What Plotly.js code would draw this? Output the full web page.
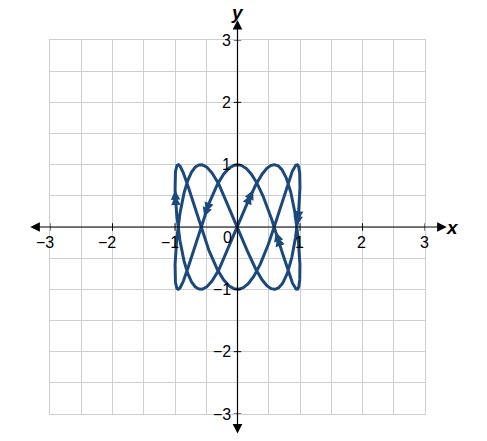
<!DOCTYPE html>
<html><head><meta charset="utf-8">
<script src="https://cdn.plot.ly/plotly-3.0.1.min.js"></script>
<style>html,body{margin:0;padding:0;background:#fff}#chart{width:487px;height:441px}</style>
</head><body><div id="chart"></div>
<script>
// Parametric curve: x(t) = sin(2t), y(t) = cos(5t), 0 <= t <= 2π
const xFrequency = 2;
const yFrequency = 5;
const tStart = 0;
const tEnd = 2 * Math.PI;
const sampleCount = 1500;
// Direction arrows on the curve: parameter t of the arrow tip and sense (+1 along increasing t, -1 against)
const arrowT = [2.325, 6.002, 1.444, 0.330, 4.080];
const arrowSense = [1, -1, -1, -1, 1];
// Axes
const axisRange = [-3, 3];
const tickValues = [-3, -2, -1, 1, 2, 3];
const tickLabels = ['\u22123', '\u22122', '\u22121', '1', '2', '3'];
const originLabel = '0';

const curveColor = '#1c497d';
const gridColor = '#cfcfcf';
const fontFamily = 'Liberation Sans, Arial, sans-serif';

function fx(t) { return Math.sin(xFrequency * t); }
function fy(t) { return Math.cos(yFrequency * t); }

const xs = [], ys = [];
for (let i = 0; i <= sampleCount; i++) {
  const t = tStart + (tEnd - tStart) * i / sampleCount;
  xs.push(fx(t)); ys.push(fy(t));
}

const traces = [{
  type: 'scatter', mode: 'lines', x: xs, y: ys,
  line: { color: curveColor, width: 3 }, hoverinfo: 'skip', cliponaxis: false
}];

const annotations = [];
// curve arrowheads: two stacked heads give an elongated arrow along the curve
const pxPerUnit = 62.4;
arrowT.forEach((t, i) => {
  const s = arrowSense[i];
  const speed = pxPerUnit * Math.hypot(xFrequency * Math.cos(xFrequency * t), yFrequency * Math.sin(yFrequency * t));
  [0, 5].forEach(offsetPx => {
    const tip = t - s * offsetPx / speed;
    const tail = tip - s * 8 / speed;
    annotations.push({
      x: fx(tip), y: fy(tip), xref: 'x', yref: 'y',
      ax: fx(tail), ay: fy(tail), axref: 'x', ayref: 'y',
      showarrow: true, arrowhead: 2, arrowsize: 0.95, arrowwidth: 2,
      arrowcolor: curveColor, text: ''
    });
  });
});
tickValues.forEach((v, i) => {
  annotations.push({
    x: v, y: 0, xref: 'x', yref: 'y', text: tickLabels[i], showarrow: false,
    xanchor: 'right', yanchor: 'middle', xshift: 5.5, yshift: -15,
    font: { family: fontFamily, size: 16, color: '#000' }
  });
  annotations.push({
    x: 0, y: v, xref: 'x', yref: 'y', text: tickLabels[i], showarrow: false,
    xanchor: 'right', yanchor: 'middle', xshift: -5, yshift: 0,
    font: { family: fontFamily, size: 16, color: '#000' }
  });
});
annotations.push({
  x: 0, y: 0, xref: 'x', yref: 'y', text: originLabel, showarrow: false,
  xanchor: 'center', yanchor: 'middle', xshift: -10, yshift: -10,
  font: { family: fontFamily, size: 16, color: '#000' }
});
// axis arrows (paper coordinates)
const zeroFracX = (0 - axisRange[0]) / (axisRange[1] - axisRange[0]);
const zeroFracY = zeroFracX;
annotations.push({
  x: 1.058, y: zeroFracY, xref: 'paper', yref: 'paper',
  ax: -418, ay: 0, axref: 'pixel', ayref: 'pixel',
  showarrow: true, arrowside: 'end+start', arrowhead: 2, startarrowhead: 2,
  arrowsize: 1.6, startarrowsize: 1.6, arrowwidth: 1.2, arrowcolor: '#000', text: ''
});
annotations.push({
  x: zeroFracX, y: 1.0535, xref: 'paper', yref: 'paper',
  ax: 0, ay: 415, axref: 'pixel', ayref: 'pixel',
  showarrow: true, arrowside: 'end+start', arrowhead: 2, startarrowhead: 2,
  arrowsize: 1.6, startarrowsize: 1.6, arrowwidth: 1.2, arrowcolor: '#000', text: ''
});
// axis titles
annotations.push({
  x: 1.073, y: zeroFracY, xref: 'paper', yref: 'paper', text: '<b><i>x</i></b>',
  showarrow: false, xanchor: 'center', yanchor: 'middle',
  font: { family: fontFamily, size: 19, color: '#000' }
});
annotations.push({
  x: zeroFracX, y: 1.107, xref: 'paper', yref: 'paper', text: '<b><i>y</i></b>',
  showarrow: false, xanchor: 'center', yanchor: 'top',
  font: { family: fontFamily, size: 19, color: '#000' }
});

// tick crosses on the axes
const shapes = [];
tickValues.forEach(v => {
  shapes.push({ type: 'line', xref: 'x', yref: 'y', x0: v, x1: v, y0: -0.06, y1: 0.06, line: { color: '#000', width: 1 } });
  shapes.push({ type: 'line', xref: 'x', yref: 'y', x0: -0.06, x1: 0.06, y0: v, y1: v, line: { color: '#000', width: 1 } });
});

const axisCommon = {
  range: axisRange, dtick: 1, tick0: 0, showticklabels: false, ticks: '',
  showgrid: true, gridcolor: gridColor, gridwidth: 1,
  minor: { dtick: 0.5, tick0: 0, showgrid: true, gridcolor: gridColor, gridwidth: 1 },
  zeroline: false, showline: true, mirror: true, linecolor: gridColor, linewidth: 1,
  fixedrange: true
};

const layout = {
  width: 487, height: 441,
  margin: { l: 50, r: 62, t: 40, b: 27 },
  paper_bgcolor: '#fff', plot_bgcolor: '#fff',
  showlegend: false,
  xaxis: Object.assign({}, axisCommon),
  yaxis: Object.assign({}, axisCommon),
  annotations: annotations,
  shapes: shapes
};

Plotly.newPlot('chart', traces, layout, { displayModeBar: false, staticPlot: true });
</script>
</body></html>
